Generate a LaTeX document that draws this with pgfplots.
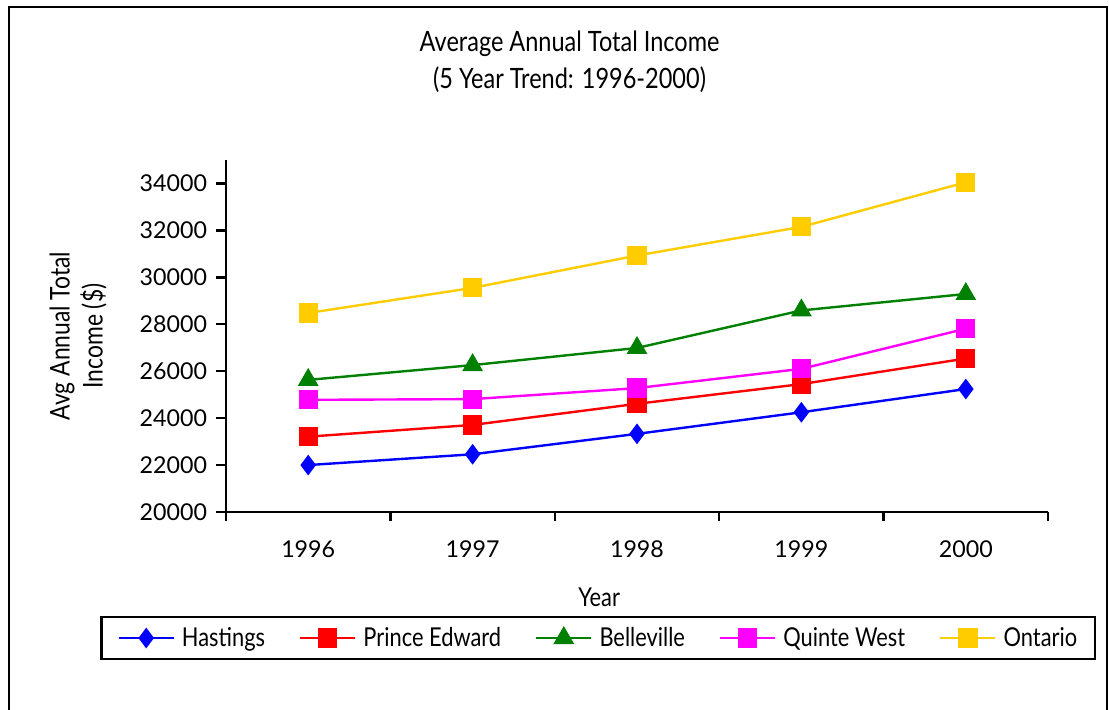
\documentclass[border=0pt]{standalone}
\usepackage{fontspec}
\setmainfont[FakeStretch=0.84]{Lato}
\newfontfamily\numfont{Lato}
\usepackage{pgfplots}
\pgfplotsset{compat=1.18}
\definecolor{cgold}{RGB}{255,204,0}
\definecolor{cgreen}{RGB}{0,128,0}
\definecolor{cmag}{RGB}{255,0,255}
\definecolor{cblue}{RGB}{0,0,255}
\definecolor{cred}{RGB}{255,0,0}
\begin{document}
\begin{tikzpicture}
\useasboundingbox (-113bp,-99bp) rectangle (441.5bp,256bp);
\draw[line width=1bp] (-108.5bp,-120bp) -- (-108.5bp,252.5bp) -- (440.5bp,252.5bp) -- (440.5bp,-120bp);
\begin{axis}[
  scale only axis,
  width=411bp, height=176bp,
  xmin=-0.5, xmax=4.5,
  ymin=20000, ymax=35000,
  axis x line*=bottom, axis y line*=left,
  axis line style={-, line width=1.2bp},
  xtick={0,1,2,3,4},
  xticklabels={1996,1997,1998,1999,2000},
  minor xtick={-0.5,0.5,1.5,2.5,3.5,4.5},
  ytick={20000,22000,...,34000},
  tick align=outside,
  major tick length=5bp,
  minor tick length=4.5bp,
  major x tick style={draw=none},
  tick style={line width=1.2bp, black},
  /pgf/number format/assume math mode=true,
  /pgf/number format/1000 sep={},
  scaled y ticks=false,
  ticklabel style={font=\numfont\fontsize{11.6bp}{13bp}\selectfont},
  xticklabel style={yshift=-6bp},
  yticklabel style={xshift=-1bp},
  xlabel={Year},
  xlabel style={at={(axis description cs:0.454,-0.241)}, anchor=center, font=\fontsize{13bp}{15bp}\selectfont},
  ylabel={Avg Annual Total\\Income (\$)},
  ylabel style={at={(axis description cs:-0.18,0.5)}, anchor=center, align=center, font=\fontsize{13.6bp}{16.5bp}\selectfont},
  title={Average Annual Total Income\\(5 Year Trend: 1996-2000)},
  title style={at={(axis description cs:0.418,1.246)}, anchor=center, align=center, font=\fontsize{14bp}{18.5bp}\selectfont},
  legend columns=5,
  legend style={at={(axis description cs:0.453,-0.358)}, anchor=center,
    draw=black, line width=1.2bp, inner xsep=8bp, inner ysep=4bp,
    font=\fontsize{13bp}{15bp}\selectfont,
    nodes={inner sep=1bp},
    /tikz/every odd column/.append style={column sep=2.5bp},
    /tikz/every even column/.append style={column sep=16bp}},
  legend image code/.code={\draw[mark repeat=2,mark phase=2,line width=1.2bp] plot coordinates {(0bp,0bp)(13.75bp,0bp)(27.5bp,0bp)};},
  every axis plot/.append style={line width=1.2bp},
]
\addplot[cblue, mark=diamond*, mark size=4.2bp, mark options={solid}] coordinates {(0,22000) (1,22460) (2,23330) (3,24250) (4,25240)};
\addlegendentry{Hastings}
\addplot[cred, mark=square*, mark size=4.2bp] coordinates {(0,23210) (1,23710) (2,24610) (3,25450) (4,26540)};
\addlegendentry{Prince Edward}
\addplot[cgreen, mark=triangle*, mark size=4.8bp] coordinates {(0,25630) (1,26260) (2,26990) (3,28590) (4,29290)};
\addlegendentry{Belleville}
\addplot[cmag, mark=square*, mark size=4.2bp] coordinates {(0,24780) (1,24810) (2,25280) (3,26100) (4,27810)};
\addlegendentry{Quinte West}
\addplot[cgold, mark=square*, mark size=4.2bp] coordinates {(0,28480) (1,29550) (2,30930) (3,32150) (4,34050)};
\addlegendentry{Ontario}
\end{axis}
\end{tikzpicture}
\end{document}
